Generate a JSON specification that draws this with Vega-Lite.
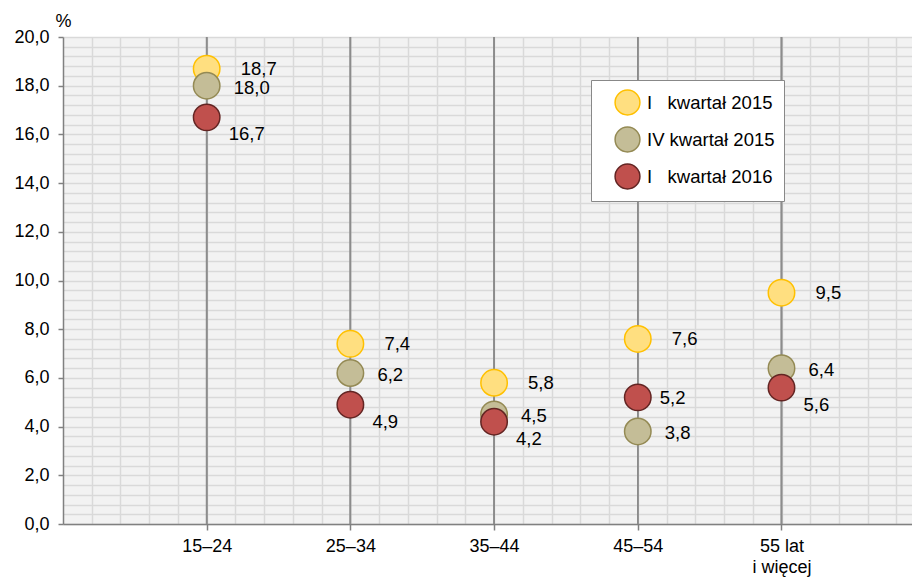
{
  "$schema": "https://vega.github.io/schema/vega-lite/v6.json",
  "width": 849,
  "height": 487,
  "autosize": {"type": "none"},
  "padding": {"left": 63, "top": 37, "right": 0, "bottom": 54},
  "config": {
    "font": "Liberation Sans",
    "view": {"fill": "#f2f2f2", "stroke": null},
    "locale": {"number": {"decimal": ",", "thousands": " ", "grouping": [3], "currency": ["", " zł"]}},
    "axis": {"labelFont": "Liberation Sans", "labelFontSize": 18, "labelColor": "#000000", "domainColor": "#808080", "domainWidth": 1.5, "tickColor": "#808080", "tickWidth": 1.5}
  },
  "data": {
    "values": [
      {"grupa": "15–24", "okres": "I kwartał 2015", "wartosc": 18.7},
      {"grupa": "25–34", "okres": "I kwartał 2015", "wartosc": 7.4},
      {"grupa": "35–44", "okres": "I kwartał 2015", "wartosc": 5.8},
      {"grupa": "45–54", "okres": "I kwartał 2015", "wartosc": 7.6},
      {"grupa": "55 lat i więcej", "okres": "I kwartał 2015", "wartosc": 9.5},
      {"grupa": "15–24", "okres": "IV kwartał 2015", "wartosc": 18.0},
      {"grupa": "25–34", "okres": "IV kwartał 2015", "wartosc": 6.2},
      {"grupa": "35–44", "okres": "IV kwartał 2015", "wartosc": 4.5},
      {"grupa": "45–54", "okres": "IV kwartał 2015", "wartosc": 3.8},
      {"grupa": "55 lat i więcej", "okres": "IV kwartał 2015", "wartosc": 6.4},
      {"grupa": "15–24", "okres": "I kwartał 2016", "wartosc": 16.7},
      {"grupa": "25–34", "okres": "I kwartał 2016", "wartosc": 4.9},
      {"grupa": "35–44", "okres": "I kwartał 2016", "wartosc": 4.2},
      {"grupa": "45–54", "okres": "I kwartał 2016", "wartosc": 5.2},
      {"grupa": "55 lat i więcej", "okres": "I kwartał 2016", "wartosc": 5.6}
    ]
  },
  "resolve": {"scale": {"x": "independent"}, "axis": {"x": "independent"}},
  "layer": [
    {
      "mark": {"type": "rule", "opacity": 0},
      "encoding": {
        "x": {
          "datum": 0,
          "type": "quantitative",
          "scale": {"domain": [0, 5.908], "nice": false, "zero": false},
          "axis": {
            "orient": "top",
            "values": [0.2, 0.4, 0.6, 0.8, 1, 1.2, 1.4, 1.6, 1.8, 2, 2.2, 2.4, 2.6, 2.8, 3, 3.2, 3.4, 3.6, 3.8, 4, 4.2, 4.4, 4.6, 4.8, 5, 5.2, 5.4, 5.6, 5.8],
            "grid": true, "gridColor": "#d9d9d9", "gridWidth": 1.5,
            "labels": false, "ticks": false, "domain": false, "title": null
          }
        }
      }
    },
    {
      "encoding": {
        "x": {
          "field": "grupa",
          "type": "ordinal",
          "scale": {"type": "point", "domain": ["15–24", "25–34", "35–44", "45–54", "55 lat i więcej"], "padding": 0.954, "align": 0.524},
          "axis": {
            "orient": "bottom",
            "title": null,
            "grid": false,
            "labelAngle": 0,
            "tickSize": 6,
            "labelPadding": 7,
            "labelLineHeight": 21,
            "labelBaseline": "top",
            "labelExpr": "datum.label == '55 lat i więcej' ? ['55 lat', 'i więcej'] : datum.label"
          }
        },
        "y": {
          "field": "wartosc",
          "type": "quantitative",
          "scale": {"domain": [0, 20], "nice": false},
          "axis": {
            "title": "%",
            "titleAngle": 0,
            "titleX": 0,
            "titleY": -11,
            "titleAlign": "center",
            "titleBaseline": "alphabetic",
            "titleFont": "Liberation Sans",
            "titleFontSize": 18,
            "titleFontWeight": "normal",
            "titleColor": "#000000",
            "values": [0, 0.4, 0.8, 1.2, 1.6, 2, 2.4, 2.8, 3.2, 3.6, 4, 4.4, 4.8, 5.2, 5.6, 6, 6.4, 6.8, 7.2, 7.6, 8, 8.4, 8.8, 9.2, 9.6, 10, 10.4, 10.8, 11.2, 11.6, 12, 12.4, 12.8, 13.2, 13.6, 14, 14.4, 14.8, 15.2, 15.6, 16, 16.4, 16.8, 17.2, 17.6, 18, 18.4, 18.8, 19.2, 19.6, 20],
            "grid": true, "gridColor": "#d9d9d9", "gridWidth": 1.5,
            "labelOverlap": false,
            "tickSize": 5,
            "labelPadding": 9,
            "tickOpacity": {"condition": {"test": "abs(datum.value/2 - round(datum.value/2)) < 0.001", "value": 1}, "value": 0},
            "labelExpr": "abs(datum.value/2 - round(datum.value/2)) < 0.001 ? replace(format(datum.value, '.1f'), '.', ',') : ''"
          }
        }
      },
      "layer": [
        {
          "mark": {"type": "rule", "color": "#8c8c8c", "strokeWidth": 1.5},
          "encoding": {"y": null}
        },
        {
          "mark": {"type": "point", "shape": "circle", "filled": true, "size": 700, "strokeWidth": 1.5, "opacity": 1},
          "encoding": {
            "fill": {
              "field": "okres",
              "type": "nominal",
              "scale": {"domain": ["I kwartał 2015", "IV kwartał 2015", "I kwartał 2016"], "range": ["#ffdf80", "#c4bd97", "#c0504d"]},
              "legend": {
                "title": null,
                "orient": "none",
                "legendX": 528,
                "legendY": 43,
                "padding": 9,
                "fillColor": "#ffffff",
                "strokeColor": "#888888",
                "symbolSize": 616,
                "symbolStrokeWidth": 1.5,
                "symbolOffset": 14,
                "rowPadding": 6,
                "labelOffset": 6,
                "labelFontSize": 18.5,
                "labelFont": "Liberation Sans",
                "labelColor": "#000000",
                "labelExpr": "datum.label == 'IV kwartał 2015' ? datum.label : replace(datum.label, 'I ', 'I\u00a0\u00a0\u00a0')"
              }
            },
            "stroke": {
              "field": "okres",
              "type": "nominal",
              "scale": {"domain": ["I kwartał 2015", "IV kwartał 2015", "I kwartał 2016"], "range": ["#ffc000", "#948a54", "#632523"]},
              "legend": {"title": null}
            }
          }
        },
        {
          "transform": [{"filter": "datum.okres == 'I kwartał 2015'"}],
          "mark": {"type": "text", "align": "left", "baseline": "middle", "dx": 34, "dy": 0, "fontSize": 18.5, "color": "#000000"},
          "encoding": {"text": {"field": "wartosc", "type": "quantitative", "format": ".1f"}}
        },
        {
          "transform": [{"filter": "datum.okres == 'IV kwartał 2015'"}],
          "mark": {"type": "text", "align": "left", "baseline": "middle", "dx": 27, "dy": 2, "fontSize": 18.5, "color": "#000000"},
          "encoding": {"text": {"field": "wartosc", "type": "quantitative", "format": ".1f"}}
        },
        {
          "transform": [
            {"window": [{"op": "lead", "field": "wartosc", "as": "nastepny"}], "groupby": ["grupa"], "sort": [{"field": "okres", "order": "ascending"}]},
            {"filter": "datum.okres == 'I kwartał 2016'"}
          ],
          "mark": {"type": "text", "align": "left", "baseline": "middle", "dx": 22, "dy": {"expr": "datum.nastepny > datum.wartosc ? 17 : 1"}, "fontSize": 18.5, "color": "#000000"},
          "encoding": {"text": {"field": "wartosc", "type": "quantitative", "format": ".1f"}}
        }
      ]
    }
  ]
}
